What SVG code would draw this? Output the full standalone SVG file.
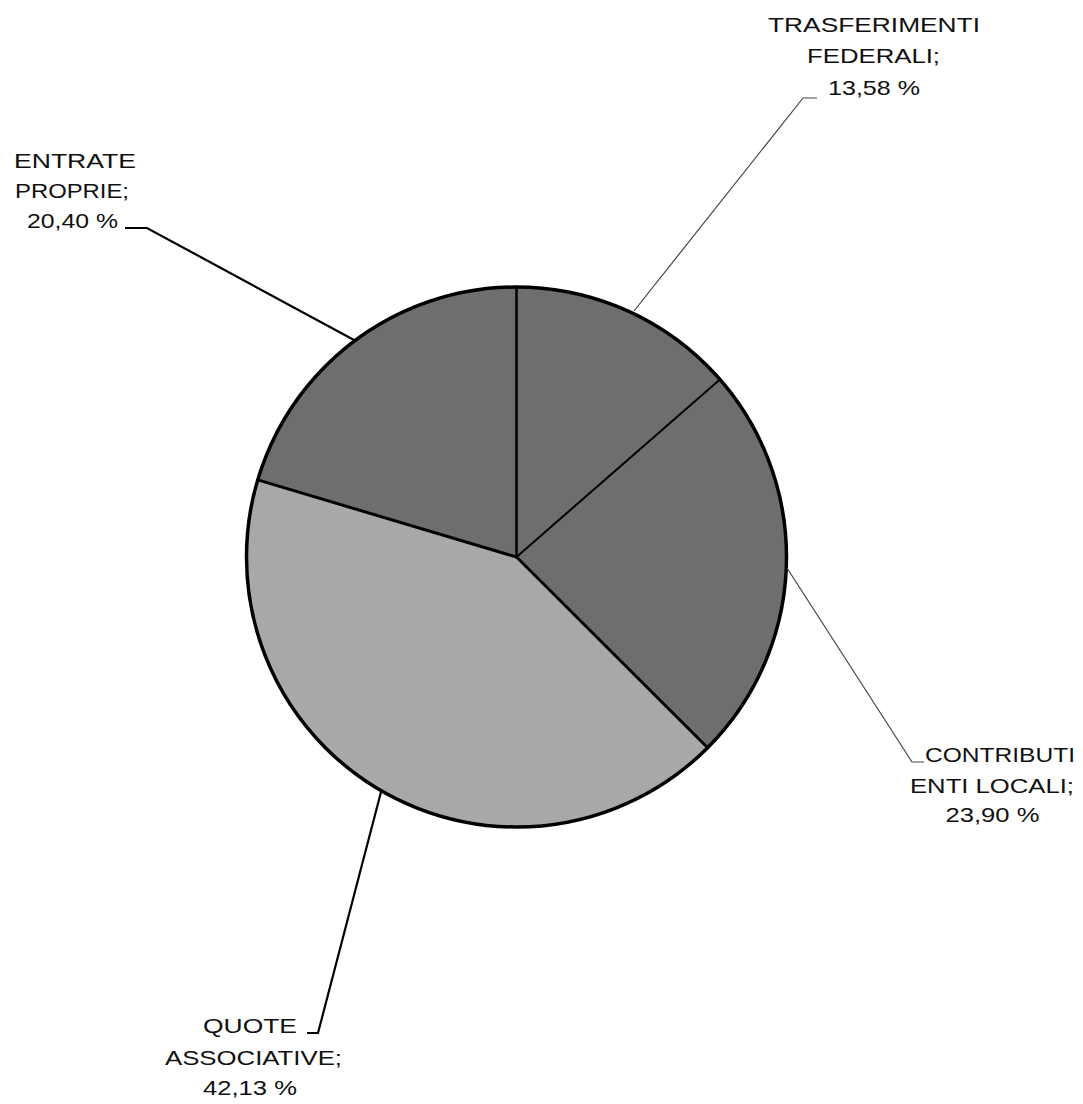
<svg xmlns="http://www.w3.org/2000/svg" width="1083" height="1104" viewBox="0 0 1083 1104">
  <style>
    .lbl { font-family: "Liberation Sans", Arial, sans-serif; font-size: 21px; fill: #111; text-anchor: middle; }
    .dark { fill: #6e6e6e; }
    .light { fill: #a8a8a8; }
    .spoke { stroke: #000; fill: none; stroke-linecap: round; }
    .thin { stroke: #444; stroke-width: 1.2; fill: none; }
    .thick { stroke: #000; stroke-width: 2.2; fill: none; }
  </style>
  <rect width="1083" height="1104" fill="#fff"/>

  <g id="pie">
    <path id="slice-trasferimenti" class="dark" d="M516.5,557 L516.5,287 A270,270 0 0 1 719.9,379.4 Z"/>
    <path id="slice-contributi" class="dark" d="M516.5,557 L719.9,379.4 A270,270 0 0 1 707.7,747.7 Z"/>
    <path id="slice-quote" class="light" d="M516.5,557 L707.7,747.7 A270,270 0 0 1 257.8,479.9 Z"/>
    <path id="slice-entrate" class="dark" d="M516.5,557 L257.8,479.9 A270,270 0 0 1 516.5,287 Z"/>
    <line class="spoke" x1="516.5" y1="557" x2="516.5" y2="287" stroke-width="2.5"/>
    <line class="spoke" x1="516.5" y1="557" x2="719.9" y2="379.4" stroke-width="2"/>
    <line class="spoke" x1="516.5" y1="557" x2="707.7" y2="747.7" stroke-width="3"/>
    <line class="spoke" x1="516.5" y1="557" x2="257.8" y2="479.9" stroke-width="3"/>
    <circle cx="516.5" cy="557" r="270" fill="none" stroke="#000" stroke-width="3.5"/>
  </g>

  <g id="connectors">
    <polyline class="thin" points="634,311 803,98 817,98"/>
    <polyline class="thin" points="787,568 912,762 924,762"/>
    <polyline class="thick" points="125,228 147,228 354,340"/>
    <polyline class="thick" points="307,1033 318,1033 381,792"/>
  </g>

  <g id="label-trasferimenti">
    <text class="lbl" x="874" y="32" textLength="212" lengthAdjust="spacingAndGlyphs">TRASFERIMENTI</text>
    <text class="lbl" x="873.5" y="63" textLength="133" lengthAdjust="spacingAndGlyphs">FEDERALI;</text>
    <text class="lbl" x="874" y="95" textLength="92" lengthAdjust="spacingAndGlyphs">13,58 %</text>
  </g>

  <g id="label-entrate">
    <text class="lbl" x="75" y="168" textLength="122" lengthAdjust="spacingAndGlyphs">ENTRATE</text>
    <text class="lbl" x="72" y="198" textLength="114" lengthAdjust="spacingAndGlyphs">PROPRIE;</text>
    <text class="lbl" x="72.5" y="228" textLength="91" lengthAdjust="spacingAndGlyphs">20,40 %</text>
  </g>

  <g id="label-contributi">
    <text class="lbl" x="1000" y="762" textLength="150" lengthAdjust="spacingAndGlyphs">CONTRIBUTI</text>
    <text class="lbl" x="992" y="793" textLength="164" lengthAdjust="spacingAndGlyphs">ENTI LOCALI;</text>
    <text class="lbl" x="992.5" y="822" textLength="94" lengthAdjust="spacingAndGlyphs">23,90 %</text>
  </g>

  <g id="label-quote">
    <text class="lbl" x="250" y="1033" textLength="94" lengthAdjust="spacingAndGlyphs">QUOTE</text>
    <text class="lbl" x="253.5" y="1065" textLength="177" lengthAdjust="spacingAndGlyphs">ASSOCIATIVE;</text>
    <text class="lbl" x="250" y="1095" textLength="94" lengthAdjust="spacingAndGlyphs">42,13 %</text>
  </g>
</svg>
